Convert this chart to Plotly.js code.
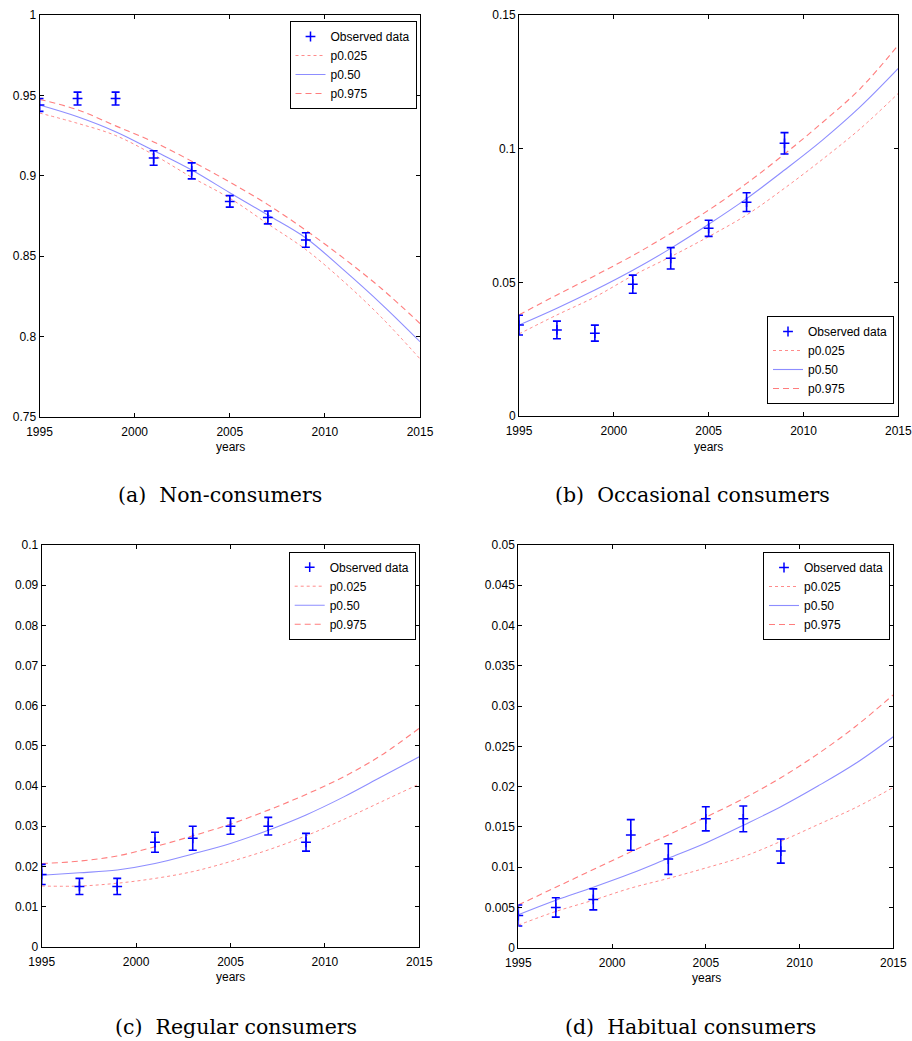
<!DOCTYPE html>
<html>
<head>
<meta charset="utf-8">
<script src="https://cdn.plot.ly/plotly-3.0.1.min.js"></script>
<style>
html,body{margin:0;padding:0;background:#fff;}
#chart{width:912px;height:1041px;}
</style>
</head>
<body>
<div id="chart"></div>
<script>
// ---------- data ----------
const obsYears = [1995, 1997, 1999, 2001, 2003, 2005, 2007, 2009];
const curveYears = [1995, 1997, 1999, 2001, 2003, 2005, 2007, 2009, 2011, 2013, 2015];

// (a) Non-consumers
const nonObs    = [0.944, 0.948, 0.948, 0.911, 0.903, 0.884, 0.874, 0.860];
const nonErr    = [0.004, 0.004, 0.004, 0.0045, 0.005, 0.0036, 0.004, 0.0045];
const nonP025   = [0.939, 0.9326, 0.925, 0.913, 0.899, 0.886, 0.870, 0.854, 0.834, 0.8115, 0.786];
const nonP50    = [0.944, 0.9367, 0.9274, 0.9156, 0.9035, 0.8894, 0.8755, 0.8612, 0.8412, 0.8198, 0.7967];
const nonP975   = [0.9475, 0.941, 0.931, 0.921, 0.909, 0.896, 0.882, 0.866, 0.8485, 0.8295, 0.808];

// (b) Occasional consumers
const occObs    = [0.034, 0.0322, 0.031, 0.0493, 0.059, 0.0702, 0.080, 0.102];
const occErr    = [0.0037, 0.0033, 0.003, 0.0034, 0.004, 0.003, 0.0035, 0.004];
const occP025   = [0.0307, 0.0378, 0.0445, 0.0525, 0.0596, 0.0671, 0.0752, 0.0852, 0.0960, 0.1075, 0.1207];
const occP50    = [0.034, 0.0403, 0.0471, 0.0545, 0.0627, 0.0717, 0.0813, 0.092, 0.1032, 0.1157, 0.130];
const occP975   = [0.0378, 0.0453, 0.0525, 0.0600, 0.0683, 0.077, 0.087, 0.098, 0.1098, 0.1225, 0.1388];

// (c) Regular consumers
const regObs    = [0.018, 0.015, 0.015, 0.026, 0.027, 0.030, 0.030, 0.026];
const regErr    = [0.0025, 0.002, 0.002, 0.0025, 0.003, 0.002, 0.0022, 0.0022];
const regP025   = [0.0151, 0.0151, 0.0158, 0.017, 0.0187, 0.0212, 0.0241, 0.0276, 0.0317, 0.0361, 0.0405];
const regP50    = [0.0178, 0.0184, 0.0191, 0.0207, 0.0231, 0.0257, 0.029, 0.0328, 0.0373, 0.0423, 0.0473];
const regP975   = [0.0207, 0.0213, 0.0226, 0.0249, 0.0276, 0.0305, 0.034, 0.0379, 0.0423, 0.0477, 0.0544];

// (d) Habitual consumers
const habObs    = [0.004, 0.005, 0.006, 0.014, 0.011, 0.016, 0.016, 0.012];
const habErr    = [0.0013, 0.0012, 0.0013, 0.0019, 0.0019, 0.0015, 0.0016, 0.0015];
const habP025   = [0.0028, 0.0045, 0.0059, 0.0074, 0.0086, 0.0099, 0.0113, 0.0132, 0.0153, 0.0174, 0.0199];
const habP50    = [0.0041, 0.0059, 0.0075, 0.0092, 0.0111, 0.013, 0.0152, 0.0175, 0.0201, 0.0229, 0.0262];
const habP975   = [0.0053, 0.0075, 0.0097, 0.0119, 0.014, 0.0162, 0.0185, 0.0211, 0.0241, 0.0275, 0.0314];

// tick labels
const xTicks = [1995, 2000, 2005, 2010, 2015];
const yTicksA = [0.75, 0.8, 0.85, 0.9, 0.95, 1];
const yTextA  = ['0.75', '0.8', '0.85', '0.9', '0.95', '1'];
const yTicksB = [0, 0.05, 0.1, 0.15];
const yTextB  = ['0', '0.05', '0.1', '0.15'];
const yTicksC = [0, 0.01, 0.02, 0.03, 0.04, 0.05, 0.06, 0.07, 0.08, 0.09, 0.1];
const yTextC  = ['0', '0.01', '0.02', '0.03', '0.04', '0.05', '0.06', '0.07', '0.08', '0.09', '0.1'];
const yTicksD = [0, 0.005, 0.01, 0.015, 0.02, 0.025, 0.03, 0.035, 0.04, 0.045, 0.05];
const yTextD  = ['0', '0.005', '0.01', '0.015', '0.02', '0.025', '0.03', '0.035', '0.04', '0.045', '0.05'];

const seriesNames = ['Observed data', 'p0.025', 'p0.50', 'p0.975'];
const captions = ['(a)  Non-consumers', '(b)  Occasional consumers', '(c)  Regular consumers', '(d)  Habitual consumers'];

// ---------- build ----------
const panels = [
  {obs: nonObs, err: nonErr, p025: nonP025, p50: nonP50, p975: nonP975},
  {obs: occObs, err: occErr, p025: occP025, p50: occP50, p975: occP975},
  {obs: regObs, err: regErr, p025: regP025, p50: regP50, p975: regP975},
  {obs: habObs, err: habErr, p025: habP025, p50: habP50, p975: habP975}
];

const traces = [];
panels.forEach((p, i) => {
  const sfx = i === 0 ? '' : String(i + 1);
  const xa = 'x' + sfx, ya = 'y' + sfx, lg = 'legend' + sfx;
  traces.push({
    x: curveYears, y: p.p025, xaxis: xa, yaxis: ya, legend: lg, legendrank: 2,
    name: seriesNames[1], mode: 'lines', type: 'scatter',
    line: {color: 'rgba(255,90,90,0.7)', width: 1, dash: 'dot', shape: 'spline'}
  });
  traces.push({
    x: curveYears, y: p.p50, xaxis: xa, yaxis: ya, legend: lg, legendrank: 3,
    name: seriesNames[2], mode: 'lines', type: 'scatter',
    line: {color: 'rgba(80,80,255,0.65)', width: 1.1, shape: 'spline'}
  });
  traces.push({
    x: curveYears, y: p.p975, xaxis: xa, yaxis: ya, legend: lg, legendrank: 4,
    name: seriesNames[3], mode: 'lines', type: 'scatter',
    line: {color: 'rgba(255,70,70,0.7)', width: 1.1, dash: '6px,4px', shape: 'spline'}
  });
  traces.push({
    x: obsYears, y: p.obs, xaxis: xa, yaxis: ya, legend: lg, legendrank: 1,
    name: seriesNames[0], mode: 'markers', type: 'scatter',
    marker: {symbol: 'cross-thin', size: 7, color: '#0000ff', line: {color: '#0000ff', width: 1.5}},
    error_y: {type: 'data', array: p.err, visible: true, color: '#0000ff', thickness: 1.6, width: 4}
  });
});

const W = 912, H = 1041;
function dx(a, b) { return [a / W, b / W]; }
function dy(top, bot) { return [1 - bot / H, 1 - top / H]; }

const fontTick = {family: 'Liberation Sans, Arial, sans-serif', size: 12, color: '#000'};

function xax(dom, anchor) {
  return {
    domain: dom, anchor: anchor, range: [1995, 2015],
    tickmode: 'array', tickvals: xTicks, ticktext: xTicks.map(String),
    ticks: 'inside', ticklen: 4, tickwidth: 1, tickcolor: '#000',
    ticklabelstandoff: 4,
    showline: true, linecolor: '#000', linewidth: 1, mirror: 'allticks',
    showgrid: false, zeroline: false, tickfont: fontTick
  };
}
function yax(dom, anchor, range, tv, tt) {
  return {
    domain: dom, anchor: anchor, range: range,
    tickmode: 'array', tickvals: tv, ticktext: tt,
    ticks: 'inside', ticklen: 4, tickwidth: 1, tickcolor: '#000',
    showline: true, linecolor: '#000', linewidth: 1, mirror: 'allticks',
    showgrid: false, zeroline: false, tickfont: fontTick
  };
}

const legendBase = {
  bgcolor: '#fff', bordercolor: '#000', borderwidth: 1,
  font: {family: 'Liberation Sans, Arial, sans-serif', size: 12, color: '#000'},
  itemwidth: 30, tracegroupgap: 0, traceorder: 'normal',
  xanchor: 'right', yanchor: 'top', xref: 'paper', yref: 'paper'
};

const captionFont = {family: 'DejaVu Serif, Liberation Serif, serif', size: 20.5, color: '#000'};
const yearsFont = {family: 'Liberation Sans, Arial, sans-serif', size: 12, color: '#000'};

const layout = {
  width: W, height: H,
  margin: {l: 0, r: 0, t: 0, b: 0},
  paper_bgcolor: '#fff', plot_bgcolor: '#fff',
  showlegend: true,
  xaxis:  xax(dx(39.5, 420), 'y'),
  yaxis:  yax(dy(15, 416.7), 'x', [0.75, 1], yTicksA, yTextA),
  xaxis2: xax(dx(519, 898.3), 'y2'),
  yaxis2: yax(dy(15, 416), 'x2', [0, 0.15], yTicksB, yTextB),
  xaxis3: xax(dx(41.7, 419.3), 'y3'),
  yaxis3: yax(dy(545, 946.7), 'x3', [0, 0.1], yTicksC, yTextC),
  xaxis4: xax(dx(518.3, 893.3), 'y4'),
  yaxis4: yax(dy(545, 947.7), 'x4', [0, 0.05], yTicksD, yTextD),
  legend:  Object.assign({}, legendBase, {x: 416.5 / W, y: 1 - 21 / H}),
  legend2: Object.assign({}, legendBase, {x: 894 / W, y: 1 - 404 / H, yanchor: 'bottom'}),
  legend3: Object.assign({}, legendBase, {x: 415.7 / W, y: 1 - 551.7 / H}),
  legend4: Object.assign({}, legendBase, {x: 890 / W, y: 1 - 552 / H}),
  annotations: [
    {text: 'years', x: 230 / W, y: 1 - 447 / H, xref: 'paper', yref: 'paper', showarrow: false, font: yearsFont, xanchor: 'center', yanchor: 'middle'},
    {text: 'years', x: 708 / W, y: 1 - 447 / H, xref: 'paper', yref: 'paper', showarrow: false, font: yearsFont, xanchor: 'center', yanchor: 'middle'},
    {text: 'years', x: 230 / W, y: 1 - 977 / H, xref: 'paper', yref: 'paper', showarrow: false, font: yearsFont, xanchor: 'center', yanchor: 'middle'},
    {text: 'years', x: 706 / W, y: 1 - 978 / H, xref: 'paper', yref: 'paper', showarrow: false, font: yearsFont, xanchor: 'center', yanchor: 'middle'},
    {text: captions[0], x: 220 / W, y: 1 - 495 / H, xref: 'paper', yref: 'paper', showarrow: false, font: captionFont, xanchor: 'center', yanchor: 'middle'},
    {text: captions[1], x: 692 / W, y: 1 - 495 / H, xref: 'paper', yref: 'paper', showarrow: false, font: captionFont, xanchor: 'center', yanchor: 'middle'},
    {text: captions[2], x: 236 / W, y: 1 - 1027 / H, xref: 'paper', yref: 'paper', showarrow: false, font: captionFont, xanchor: 'center', yanchor: 'middle'},
    {text: captions[3], x: 690 / W, y: 1 - 1027 / H, xref: 'paper', yref: 'paper', showarrow: false, font: captionFont, xanchor: 'center', yanchor: 'middle'}
  ]
};

Plotly.newPlot('chart', traces, layout, {staticPlot: true, displayModeBar: false});
</script>
</body>
</html>
